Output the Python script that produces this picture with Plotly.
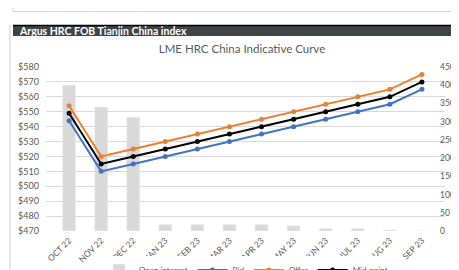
import plotly.graph_objects as go

months = ["OCT 22", "NOV 22", "DEC 22", "JAN 23", "FEB 23", "MAR 23",
          "APR 23", "MAY 23", "JUN 23", "JUL 23", "AUG 23", "SEP 23"]
open_interest = [400, 340, 312, 18, 18, 18, 18, 14, 7, 7, 3, 0]
bid = [544, 510, 515, 520, 525, 530, 535, 540, 545, 550, 555, 565]
offer = [554, 520, 525, 530, 535, 540, 545, 550, 555, 560, 565, 575]
mid = [549, 515, 520, 525, 530, 535, 540, 545, 550, 555, 560, 570]

W, H = 459, 270
L, R, T, B = 38, 437, 59, 223.3

def px(x):
    return (x - L) / (R - L)

def py(y):
    return (B - y) / (B - T)

FONT = "Lato, 'Open Sans', sans-serif"
GRAY = "#595959"

fig = go.Figure()
fig.add_trace(go.Bar(x=months, y=open_interest, name="Open interest",
                     marker_color="#d9d9d9", yaxis="y"))
fig.add_trace(go.Scatter(x=months, y=bid, name="Bid", mode="lines+markers",
                         line=dict(color="#4472c4", width=2),
                         marker=dict(size=5, color="#4472c4"), yaxis="y2"))
fig.add_trace(go.Scatter(x=months, y=offer, name="Offer", mode="lines+markers",
                         line=dict(color="#ed7d31", width=2),
                         marker=dict(size=5, color="#ed7d31"), yaxis="y2"))
fig.add_trace(go.Scatter(x=months, y=mid, name="Mid-point", mode="lines+markers",
                         line=dict(color="#000000", width=2),
                         marker=dict(size=5, color="#000000"), yaxis="y2"))

shapes = [
    dict(type="line", xref="paper", yref="paper", x0=px(5), x1=px(459), y0=py(3.5), y1=py(3.5),
         line=dict(color="#d0d0d0", width=1)),
    dict(type="line", xref="paper", yref="paper", x0=px(5), x1=px(5), y0=py(0), y1=py(3.5),
         line=dict(color="#d0d0d0", width=1)),
    dict(type="line", xref="paper", yref="paper", x0=px(2), x1=px(2), y0=py(17), y1=py(270),
         line=dict(color="#d0d0d0", width=1)),
    dict(type="rect", xref="paper", yref="paper", x0=px(5), x1=px(459), y0=py(28), y1=py(17),
         fillcolor="#3f4447", line=dict(width=0), layer="above"),
    dict(type="line", xref="paper", yref="paper", x0=px(5), x1=px(459), y0=py(17.5), y1=py(17.5),
         line=dict(color="#000000", width=1.5), layer="above"),
]

annotations = [
    dict(text="<b>Argus HRC FOB Tianjin China index</b>", xref="paper", yref="paper",
         x=px(9), y=py(23), xanchor="left", yanchor="middle", showarrow=False,
         font=dict(family=FONT, size=10.5, color="white")),
]

fig.update_layout(
    width=W, height=H,
    margin=dict(l=L, r=W - R, t=T, b=H - B, autoexpand=False),
    paper_bgcolor="white", plot_bgcolor="white",
    font=dict(family=FONT, color=GRAY),
    title=dict(text="LME HRC China Indicative Curve", x=234 / W, xanchor="center",
               y=1 - 41 / H, yanchor="middle",
               font=dict(family=FONT, size=11.5, color=GRAY)),
    bargap=0.6,
    showlegend=True,
    legend=dict(orientation="h", xref="container", yref="container",
                x=238 / W, xanchor="center", y=1 - 262 / H, yanchor="middle",
                itemwidth=30, tracegroupgap=0,
                font=dict(family=FONT, size=8, color=GRAY), traceorder="normal"),
    xaxis=dict(tickangle=-45, tickfont=dict(size=8.5, color=GRAY), showgrid=False,
               showline=False, ticks="", automargin=False, ticklabelstandoff=2),
    yaxis=dict(side="right", range=[0, 450], dtick=50, showgrid=False, zeroline=False,
               tickfont=dict(size=8.5, color=GRAY), ticklabelstandoff=-6, automargin=False),
    yaxis2=dict(side="left", overlaying="y", range=[470, 580], dtick=10, tickprefix="$",
                showgrid=True, gridcolor="#d9d9d9", gridwidth=1, zeroline=False,
                tickfont=dict(size=9, color=GRAY), ticklabelstandoff=6, automargin=False),
    shapes=shapes, annotations=annotations,
)

fig.write_html("out.html")
